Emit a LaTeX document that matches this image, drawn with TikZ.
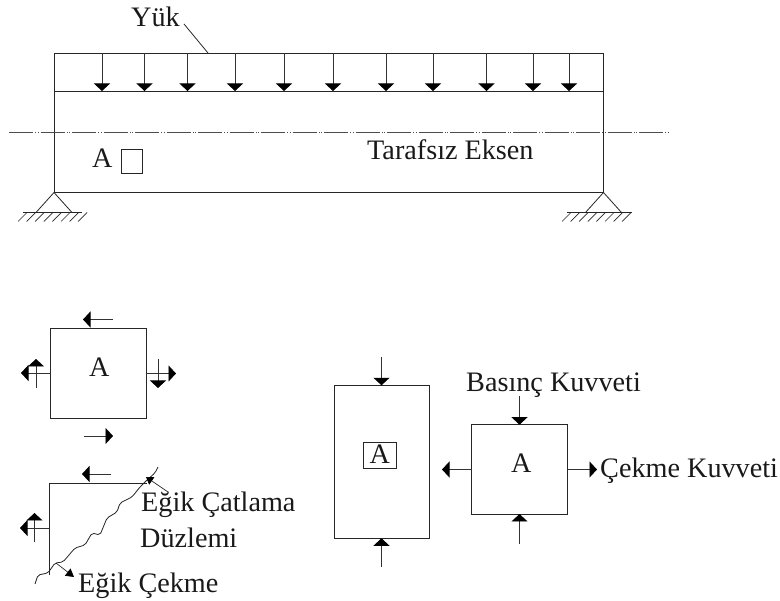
\documentclass[tikz,border=0pt]{standalone}
\usepackage{fontspec}
\setmainfont{Liberation Serif}
\usetikzlibrary{arrows.meta}
\tikzset{
  x=1pt,y=-1pt,
  member/.style={draw=black!85,line width=0.9pt},
  thin member/.style={draw=black!85,line width=0.8pt},
  force/.style={draw=black!80,line width=0.8pt,-{Triangle[width=16pt,length=7.5pt,color=black,fill=black]}},
  lbl/.style={font=\fontsize{28.2}{28.2}\selectfont,anchor=base west,inner sep=0pt,text=black!90},
  hatch/.style={draw=black!85,line width=0.7pt},
}
\newcommand{\groundsupport}[3]{% apex x, line left, line right
  \draw[thin member] (#1,192.5) -- (#1-18,212.5) (#1,192.5) -- (#1+18,212.5);
  \draw[thin member] (#2,212.5) -- (#3,212.5);
  \foreach \k in {0,...,7} \draw[hatch] (#2+4+\k*8.6,212.5) -- (#2-5+\k*8.6,221.5);
}
\begin{document}
\begin{tikzpicture}
\useasboundingbox (0,0) rectangle (780,601);
% beam
\draw[member] (54,53) rectangle (603.5,192.5);
\draw[member] (54,91) -- (603.5,91);
\draw[draw=black!70,line width=0.8pt,dash pattern=on 24pt off 2pt on 1pt off 1.5pt on 1pt off 2pt] (9,132.5) -- (670,132.5);
\foreach \x in {102,144.5,187.5,235,284,333,386,433,486.5,533,569}
  \draw[force] (\x,53) -- (\x,91);
\node[draw=black!85,line width=0.8pt,minimum width=21pt,minimum height=24pt,inner sep=0pt] (smallA) at (131.5,161) {};
\node[lbl] (lA) at (92,168) {A};
\node[lbl] (lYuk) at (131,27) {Yük};
\coordinate (yl) at (184,24);
\coordinate (yr) at (208,53);
\draw[thin member] (yl) -- (yr);
\node[lbl] (lT) at (367,159.5) {Tarafsız Eksen};
\groundsupport{54}{23}{82}
\groundsupport{603.5}{567}{632}
% element A, lower left
\draw[member] (50.5,328.5) rectangle (146,418.5);
\node[lbl] (a2) at (89,376.5) {A};
\draw[force] (113,319.5) -- (83,319.5);
\draw[force] (50.5,373) -- (21,373);
\draw[force] (36,388) -- (36,359);
\draw[force] (146,373.5) -- (176,373.5);
\draw[force] (158,359) -- (158,388);
\draw[force] (84,436) -- (113,436);
% cracked element
\draw[member] (49,575) -- (49,483) -- (147,483);
\draw[force] (111,474) -- (82,474);
\draw[force] (49,528) -- (20,528);
\draw[force] (34.5,542) -- (34.5,513);
\draw[thin member,rounded corners=2pt] (35,584) -- (38,575) -- (48,573) -- (55,563) -- (63,562) -- (75,548) -- (85,545) -- (92,533) -- (100,535) -- (107,518) -- (117,512) -- (120,503) -- (132,497) -- (140,487) -- (147,480) -- (155,473) -- (158,467);
\draw[draw=black!85,line width=0.7pt,-{Triangle[width=9pt,length=7pt,color=black,fill=black]}] (168,492) -- (146,477);
\draw[draw=black!85,line width=0.7pt,-{Triangle[width=9pt,length=8pt,color=black,fill=black]}] (56,563) -- (74,577);
\node[lbl] at (141,511.5) {Eğik Çatlama};
\node[lbl] at (140,548) {Düzlemi};
\node[lbl] at (78,593) {Eğik Çekme};
% column
\draw[member] (334.7,385.3) rectangle (429,538.3);
\node[draw=black!85,line width=0.8pt,minimum width=32.5pt,minimum height=25.5pt,inner sep=0pt] (boxA) at (379.7,455.3) {};
\node[lbl] at (369.5,464) {A};
\draw[force] (381.5,357) -- (381.5,385.3);
\draw[force] (381.5,567) -- (381.5,538.3);
% element right
\draw[member] (471.7,424.7) rectangle (567.7,514);
\node[lbl] at (511,473) {A};
\draw[force] (519.5,396) -- (519.5,424.7);
\draw[force] (519.5,544) -- (519.5,514);
\draw[force] (471.7,469.5) -- (442,469.5);
\draw[force] (567.7,469.5) -- (597,469.5);
\node[lbl] at (466,391.5) {Basınç Kuvveti};
\node[lbl] at (600,478) {Çekme Kuvveti};
\end{tikzpicture}
\end{document}
